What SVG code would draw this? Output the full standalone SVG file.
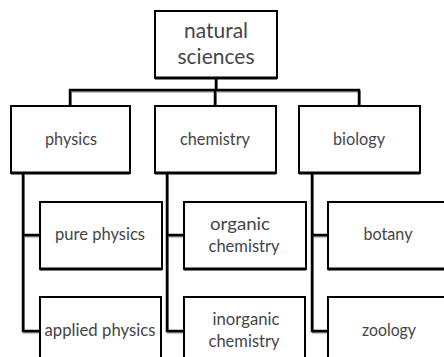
<svg xmlns="http://www.w3.org/2000/svg" width="444" height="357" viewBox="0 0 444 357">
  <style>
    .box rect { fill: #ffffff; stroke: #000000; stroke-width: 2; }
    .box .base { stroke: #000000; stroke-width: 3; }
    .box text { font-family: Lato, "Liberation Sans", sans-serif; fill: #454545; text-anchor: middle; }
    .lg { font-size: 21px; }
    .md { font-size: 17px; }
    .wire { fill: none; stroke: #000000; stroke-width: 2.5; }
    .wire-shadow { fill: none; stroke: #8c8c8c; stroke-width: 2; }
  </style>

  <!-- tree connectors: gray offset shadow under the black elbows -->
  <g id="connectors">
    <g transform="translate(1,1.5)">
      <path class="wire-shadow" d="M216,78 V90 M70,106 V90 H359 V106 M215,90 V106"/>
      <path class="wire-shadow" d="M23,173 V331 H40 M23,235 H40"/>
      <path class="wire-shadow" d="M167,173 V331 H184 M167,235 H184"/>
      <path class="wire-shadow" d="M312,173 V331 H328 M312,235 H328"/>
    </g>
    <path class="wire" d="M216,78 V90 M70,106 V90 H359 V106 M215,90 V106"/>
    <path class="wire" d="M23,173 V331 H40 M23,235 H40"/>
    <path class="wire" d="M167,173 V331 H184 M167,235 H184"/>
    <path class="wire" d="M312,173 V331 H328 M312,235 H328"/>
  </g>

  <!-- root -->
  <g id="natural-sciences" class="box">
    <rect x="155" y="11" width="122" height="67"/>
    <line class="base" x1="155" y1="78" x2="277" y2="78"/>
    <text class="lg" x="216" y="38" textLength="64" lengthAdjust="spacingAndGlyphs">natural</text>
    <text class="lg" x="216" y="64" textLength="77" lengthAdjust="spacingAndGlyphs">sciences</text>
  </g>

  <!-- second level -->
  <g id="physics" class="box">
    <rect x="11" y="106" width="119" height="67"/>
    <line class="base" x1="11" y1="173" x2="130" y2="173"/>
    <text class="md" x="71" y="145" textLength="52" lengthAdjust="spacingAndGlyphs">physics</text>
  </g>
  <g id="chemistry" class="box">
    <rect x="155" y="106" width="121" height="67"/>
    <line class="base" x1="155" y1="173" x2="276" y2="173"/>
    <text class="md" x="215" y="145" textLength="70" lengthAdjust="spacingAndGlyphs">chemistry</text>
  </g>
  <g id="biology" class="box">
    <rect x="299" y="106" width="121" height="67"/>
    <line class="base" x1="299" y1="173" x2="420" y2="173"/>
    <text class="md" x="359" y="145" textLength="52" lengthAdjust="spacingAndGlyphs">biology</text>
  </g>

  <!-- third level -->
  <g id="pure-physics" class="box">
    <rect x="40" y="202" width="122" height="67"/>
    <line class="base" x1="40" y1="269" x2="162" y2="269"/>
    <text class="md" x="100" y="240" textLength="90" lengthAdjust="spacingAndGlyphs">pure physics</text>
  </g>
  <g id="applied-physics" class="box">
    <rect x="40" y="297" width="121" height="72"/>
    <text class="md" x="100" y="336" textLength="111" lengthAdjust="spacingAndGlyphs">applied physics</text>
  </g>
  <g id="organic-chemistry" class="box">
    <rect x="184" y="202" width="122" height="67"/>
    <line class="base" x1="184" y1="269" x2="306" y2="269"/>
    <text class="md" x="240" y="230" textLength="60" lengthAdjust="spacingAndGlyphs">organic</text>
    <text class="md" x="244" y="252" textLength="71" lengthAdjust="spacingAndGlyphs">chemistry</text>
  </g>
  <g id="inorganic-chemistry" class="box">
    <rect x="184" y="297" width="121" height="72"/>
    <text class="md" x="246" y="325" textLength="67" lengthAdjust="spacingAndGlyphs">inorganic</text>
    <text class="md" x="244" y="347" textLength="71" lengthAdjust="spacingAndGlyphs">chemistry</text>
  </g>
  <g id="botany" class="box">
    <rect x="328" y="202" width="130" height="67"/>
    <line class="base" x1="328" y1="269" x2="458" y2="269"/>
    <text class="md" x="388" y="240" textLength="49" lengthAdjust="spacingAndGlyphs">botany</text>
  </g>
  <g id="zoology" class="box">
    <rect x="328" y="297" width="130" height="72"/>
    <text class="md" x="389" y="336" textLength="54" lengthAdjust="spacingAndGlyphs">zoology</text>
  </g>
</svg>
